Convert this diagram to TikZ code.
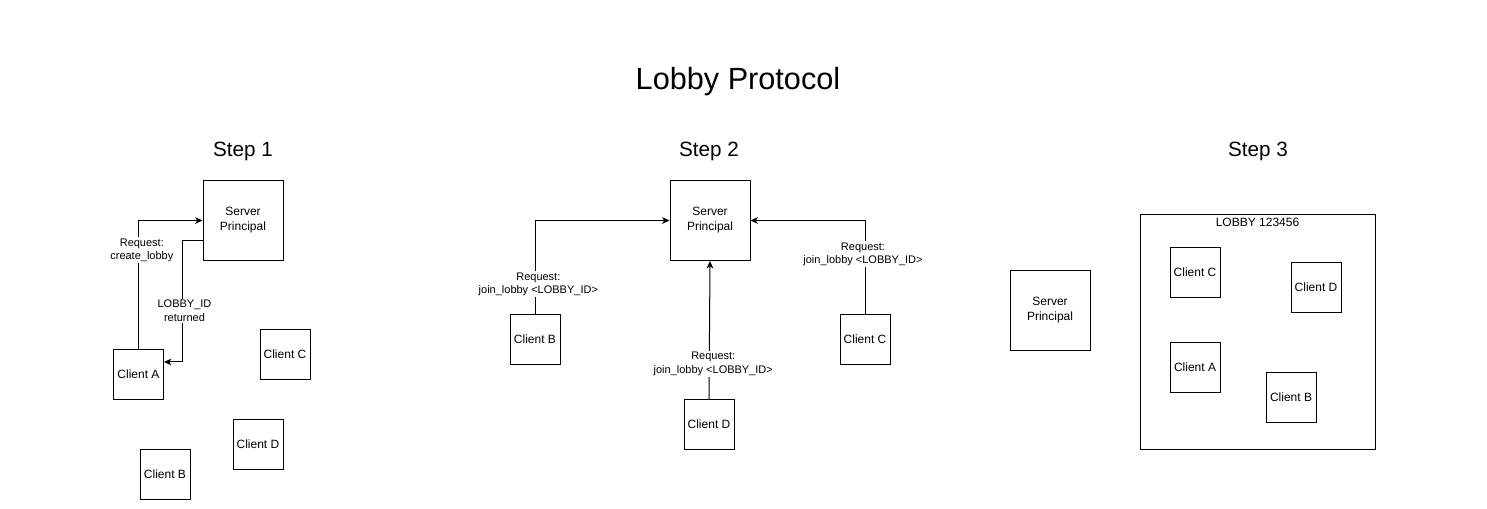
\documentclass[tikz,border=0pt]{standalone}
\usepackage{fontspec}
\setmainfont{Liberation Sans}
\usetikzlibrary{shapes,arrows.meta}

\begin{document}
\begin{tikzpicture}[x=.75pt,y=-.75pt,line width=.75pt,
		srv/.style={draw, align=center, minimum width=60pt, minimum height=60pt, inner sep=0pt, font=\fontsize{9}{11.25}\selectfont},
		cli/.style={draw, minimum width=37.5pt, minimum height=37.5pt, inner sep=0pt, font=\fontsize{9}{11}\selectfont},
		lbl/.style={fill=white, align=center, inner sep=1pt, font=\fontsize{8.25}{9.9}\selectfont},
		hdr/.style={font=\fontsize{15.5}{18}\selectfont},
		req/.style={-{Stealth[length=5.5pt,width=5pt,inset=1.5pt]}}]
		\useasboundingbox (0,0) rectangle (1487,508);
		\node[font=\fontsize{23}{27}\selectfont] (title) at (738,82) {Lobby Protocol};
		\node[hdr] (step1) at (243,151) {Step 1};
		\node[hdr] (step2) at (709,151) {Step 2};
		\node[hdr] (step3) at (1258,151) {Step 3};

		\node[srv] (srv1) at (243,220.5) {Server\\Principal};
		\node[cli] (ca1) at (138.5,374.5) {Client A};
		\node[cli] (cc1) at (285,354.5) {Client C};
		\node[cli] (cd1) at (258,444.5) {Client D};
		\node[cli] (cb1) at (165,474.5) {Client B};
		\draw[req] (ca1.north) |- node[lbl, pos=.385, xshift=2.5pt]{Request:\\create\_lobby} (srv1.west);
		\draw[req] ([yshift=-15pt]srv1.west) -- ++(-20,0) |- node[lbl, pos=.289, xshift=1.5pt]{LOBBY\_ID\\returned} ([yshift=9.4pt]ca1.east);

		\node[srv] (srv2) at (710,220.5) {Server\\Principal};
		\node[cli] (cb2) at (535,339.5) {Client B};
		\node[cli] (cc2) at (865,339.5) {Client C};
		\node[cli] (cd2) at (709,424.5) {Client D};
		\draw[req] (cb2.north) |- node[lbl, pos=.16, xshift=2.5pt]{Request:\\join\_lobby <LOBBY\_ID>} (srv2.west);
		\draw[req] (cc2.north) |- node[lbl, pos=.32, xshift=-1.5pt]{Request:\\join\_lobby <LOBBY\_ID>} (srv2.east);
		\draw[req] (cd2.north) -- node[lbl, pos=.255, xshift=3pt]{Request:\\join\_lobby <LOBBY\_ID>} (srv2.south);

		\node[srv] (srv3) at (1050,310.5) {Server\\Principal};
		\node[draw, minimum width=176.25pt, minimum height=176.25pt] (lobby) at (1257.5,331.5) {};
		\node[below, inner sep=3pt, font=\fontsize{9}{11}\selectfont] (lobbyid) at (lobby.north) {LOBBY 123456};
		\node[cli] (cc3) at (1195,272) {Client C};
		\node[cli] (cd3) at (1316,287) {Client D};
		\node[cli] (ca3) at (1195,367) {Client A};
		\node[cli] (cb3) at (1291,397) {Client B};
\end{tikzpicture}
\end{document}
